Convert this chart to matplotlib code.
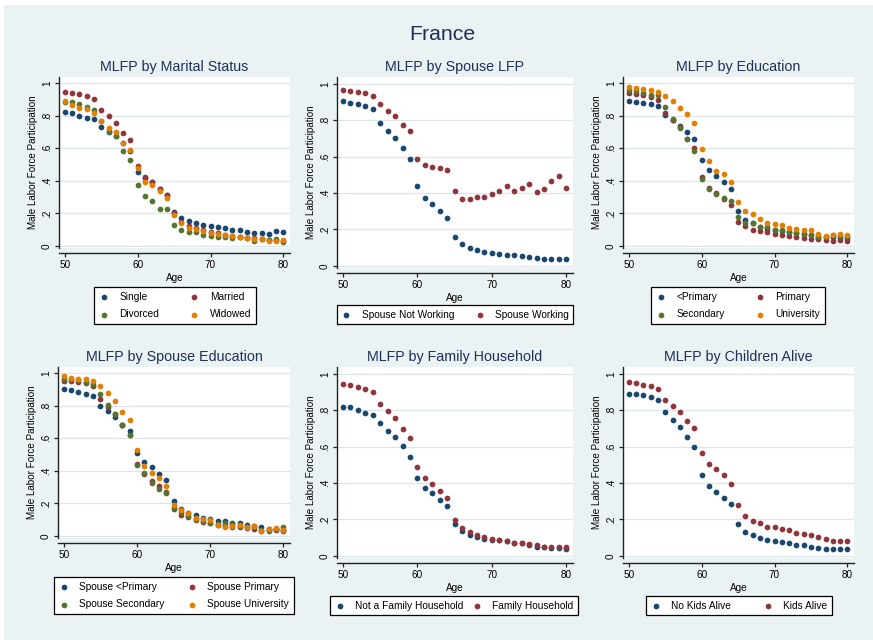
import matplotlib
matplotlib.use("Agg")
import matplotlib.pyplot as plt
from matplotlib.patches import Rectangle

plt.rcParams['font.family'] = ['Liberation Sans', 'DejaVu Sans']

ages = list(range(50, 81))

# MLFP by Marital Status
single = [0.82, 0.815, 0.80, 0.785, 0.78, 0.73, 0.70, 0.675, 0.635, 0.585, 0.457, 0.42, 0.39, 0.35, 0.315,
          0.21, 0.175, 0.155, 0.14, 0.13, 0.123, 0.115, 0.11, 0.10, 0.097, 0.088, 0.08, 0.08, 0.073, 0.09, 0.085]
married = [0.947, 0.94, 0.93, 0.918, 0.904, 0.836, 0.795, 0.756, 0.695, 0.648, 0.488, 0.422, 0.39, 0.352, 0.316,
           0.20, 0.145, 0.125, 0.113, 0.098, 0.086, 0.082, 0.07, 0.064, 0.057, 0.051, 0.047, 0.043, 0.037, 0.037, 0.033]
divorced = [0.885, 0.885, 0.873, 0.852, 0.836, 0.77, 0.707, 0.672, 0.584, 0.525, 0.375, 0.31, 0.277, 0.227, 0.227,
            0.13, 0.096, 0.084, 0.084, 0.07, 0.061, 0.053, 0.053, 0.047, 0.053, 0.047, 0.029, 0.041, 0.035, 0.043, 0.027]
widowed = [0.89, 0.863, 0.846, 0.842, 0.818, 0.766, 0.725, 0.697, 0.635, 0.59, 0.477, 0.39, 0.373, 0.34, 0.293,
           0.189, 0.139, 0.109, 0.105, 0.092, 0.082, 0.072, 0.068, 0.061, 0.055, 0.051, 0.045, 0.041, 0.033, 0.033, 0.035]

# MLFP by Spouse LFP
sp_not_working = [0.903, 0.896, 0.887, 0.876, 0.86, 0.785, 0.743, 0.703, 0.646, 0.589, 0.44, 0.374, 0.339, 0.303, 0.264,
                  0.159, 0.12, 0.099, 0.088, 0.078, 0.071, 0.066, 0.062, 0.057, 0.053, 0.047, 0.042, 0.038, 0.035, 0.035, 0.035]
sp_working = [0.964, 0.962, 0.954, 0.947, 0.934, 0.887, 0.852, 0.821, 0.772, 0.743, 0.589, 0.555, 0.54, 0.535, 0.526,
              0.41, 0.367, 0.365, 0.38, 0.38, 0.392, 0.41, 0.44, 0.41, 0.43, 0.447, 0.405, 0.42, 0.467, 0.493, 0.429]

# MLFP by Education
edu_lt_primary = [0.89, 0.883, 0.875, 0.869, 0.857, 0.801, 0.775, 0.738, 0.699, 0.656, 0.525, 0.467, 0.43, 0.391, 0.352,
                  0.213, 0.16, 0.141, 0.119, 0.107, 0.098, 0.094, 0.086, 0.08, 0.074, 0.068, 0.057, 0.053, 0.053, 0.051, 0.047]
edu_primary = [0.94, 0.932, 0.924, 0.916, 0.893, 0.816, 0.775, 0.73, 0.658, 0.60, 0.426, 0.359, 0.328, 0.291, 0.254,
               0.15, 0.121, 0.098, 0.092, 0.084, 0.072, 0.07, 0.061, 0.055, 0.051, 0.045, 0.041, 0.035, 0.033, 0.037, 0.031]
edu_secondary = [0.957, 0.949, 0.939, 0.926, 0.924, 0.852, 0.779, 0.727, 0.656, 0.582, 0.414, 0.348, 0.318, 0.293, 0.277,
                 0.176, 0.139, 0.139, 0.119, 0.115, 0.098, 0.098, 0.086, 0.082, 0.076, 0.07, 0.057, 0.053, 0.068, 0.064, 0.061]
edu_university = [0.975, 0.971, 0.963, 0.959, 0.947, 0.922, 0.89, 0.848, 0.807, 0.756, 0.596, 0.52, 0.463, 0.443, 0.395,
                  0.268, 0.215, 0.195, 0.168, 0.143, 0.135, 0.129, 0.109, 0.104, 0.096, 0.096, 0.076, 0.064, 0.066, 0.072, 0.07]

# MLFP by Spouse Education
sedu_lt_primary = [0.90, 0.894, 0.884, 0.873, 0.861, 0.798, 0.765, 0.733, 0.684, 0.647, 0.512, 0.455, 0.422, 0.38, 0.345,
                   0.214, 0.165, 0.143, 0.127, 0.112, 0.104, 0.094, 0.09, 0.082, 0.078, 0.067, 0.061, 0.055, 0.045, 0.041, 0.037]
sedu_primary = [0.953, 0.949, 0.945, 0.937, 0.92, 0.843, 0.794, 0.749, 0.682, 0.618, 0.443, 0.378, 0.339, 0.31, 0.273,
                0.167, 0.127, 0.114, 0.10, 0.086, 0.08, 0.069, 0.059, 0.055, 0.053, 0.049, 0.041, 0.033, 0.035, 0.035, 0.031]
sedu_secondary = [0.963, 0.961, 0.955, 0.947, 0.931, 0.873, 0.802, 0.751, 0.682, 0.62, 0.433, 0.384, 0.327, 0.286, 0.265,
                  0.171, 0.145, 0.12, 0.106, 0.092, 0.08, 0.073, 0.078, 0.073, 0.063, 0.057, 0.053, 0.037, 0.031, 0.045, 0.053]
sedu_university = [0.98, 0.971, 0.965, 0.961, 0.953, 0.92, 0.876, 0.829, 0.761, 0.712, 0.529, 0.429, 0.384, 0.355, 0.306,
                   0.188, 0.157, 0.143, 0.112, 0.106, 0.096, 0.067, 0.055, 0.059, 0.065, 0.053, 0.059, 0.033, 0.043, 0.049, 0.037]

# MLFP by Family Household
not_family = [0.819, 0.819, 0.799, 0.786, 0.776, 0.73, 0.688, 0.653, 0.604, 0.544, 0.429, 0.372, 0.345, 0.308, 0.274,
              0.173, 0.139, 0.117, 0.104, 0.095, 0.089, 0.086, 0.08, 0.068, 0.068, 0.058, 0.046, 0.047, 0.042, 0.044, 0.038]
family = [0.943, 0.938, 0.927, 0.916, 0.901, 0.834, 0.794, 0.755, 0.697, 0.649, 0.489, 0.425, 0.392, 0.358, 0.319,
          0.199, 0.151, 0.131, 0.117, 0.102, 0.093, 0.088, 0.08, 0.073, 0.068, 0.064, 0.058, 0.051, 0.051, 0.046, 0.046]

# MLFP by Children Alive
no_kids = [0.891, 0.891, 0.881, 0.87, 0.858, 0.79, 0.748, 0.71, 0.653, 0.599, 0.443, 0.381, 0.352, 0.318, 0.286,
           0.173, 0.131, 0.113, 0.099, 0.089, 0.08, 0.075, 0.069, 0.06, 0.058, 0.051, 0.042, 0.04, 0.04, 0.04, 0.036]
kids = [0.953, 0.949, 0.94, 0.931, 0.918, 0.858, 0.821, 0.788, 0.741, 0.703, 0.562, 0.505, 0.478, 0.442, 0.396,
        0.277, 0.221, 0.193, 0.182, 0.157, 0.157, 0.148, 0.142, 0.126, 0.12, 0.113, 0.102, 0.095, 0.084, 0.08, 0.084]

yticks = [0, 0.2, 0.4, 0.6, 0.8, 1]
ytick_labels = ["0", ".2", ".4", ".6", ".8", "1"]
xticks = [50, 60, 70, 80]

navy = '#1A476F'
maroon = '#90353B'
green = '#55752F'
orange = '#E37E00'
bg = '#EAF2F3'
title_col = '#1F2F57'

W, H = 873, 640
fig = plt.figure(figsize=(W / 100, H / 100), dpi=100, facecolor='white')
fig.patches.append(Rectangle((4 / W, 0), 1, 1 - 5 / H, transform=fig.transFigure,
                             facecolor=bg, edgecolor='none', zorder=-10))

fig.text(442 / W, 1 - 34 / H, "France", fontsize=15.3, color=title_col, ha='center', va='center')

panels = [
    # title, box (x0, x1, ytop, ybot), series, labels, colors, legend (cx, top, colspacing)
    ("MLFP by Marital Status", (59, 290, 77, 248),
     [single, married, divorced, widowed], ["Single", "Married", "Divorced", "Widowed"],
     [navy, maroon, green, orange], (175, 287, 3.0)),
    ("MLFP by Spouse LFP", (337, 573, 77, 268),
     [sp_not_working, sp_working], ["Spouse Not Working", "Spouse Working"],
     [navy, maroon], (455, 305, 2.0)),
    ("MLFP by Education", (623, 854, 77, 248),
     [edu_lt_primary, edu_primary, edu_secondary, edu_university], ["<Primary", "Primary", "Secondary", "University"],
     [navy, maroon, green, orange], (738, 287, 3.0)),
    ("MLFP by Spouse Education", (58, 290, 367, 538),
     [sedu_lt_primary, sedu_primary, sedu_secondary, sedu_university],
     ["Spouse <Primary", "Spouse Primary", "Spouse Secondary", "Spouse University"],
     [navy, maroon, green, orange], (174, 577, 2.2)),
    ("MLFP by Family Household", (337, 573, 367, 558),
     [not_family, family], ["Not a Family Household", "Family Household"],
     [navy, maroon], (454, 596, 0.8)),
    ("MLFP by Children Alive", (623, 854, 367, 558),
     [no_kids, kids], ["No Kids Alive", "Kids Alive"],
     [navy, maroon], (739, 596, 3.2)),
]

for title, box, series, labels, colors, leg in panels:
    x0, x1, yt, yb = box
    ax = fig.add_axes([x0 / W, 1 - yb / H, (x1 - x0) / W, (yb - yt) / H])
    ax.set_facecolor('white')
    handles = []
    for vals, lab, col in zip(series, labels, colors):
        h = ax.scatter(ages, vals, s=17, color=col, label=lab, linewidths=0, zorder=3)
        handles.append(h)
    ax.set_xlim(49.2, 80.9)
    ax.set_ylim(-0.012, 1.037)
    ax.set_xticks(xticks)
    ax.set_yticks(yticks)
    ax.set_yticklabels(ytick_labels, rotation=90, va='center')
    ax.grid(axis='y', color='#DCE5E9', linewidth=0.9)
    ax.set_axisbelow(True)
    for s in ['top', 'right']:
        ax.spines[s].set_visible(False)
    ax.spines['bottom'].set_position(('outward', 3.6))
    for s in ['left', 'bottom']:
        ax.spines[s].set_color('#222222')
        ax.spines[s].set_linewidth(1.0)
    ax.tick_params(axis='both', labelsize=7.2, length=3, width=0.9, color='#222222', pad=2)
    ax.set_xlabel("Age", fontsize=7.2, labelpad=2)
    ax.set_ylabel("Male Labor Force Participation", fontsize=7.1, labelpad=3)
    ax.set_title(title, fontsize=10.3, color=title_col, pad=4)
    # legend fills row by row like the original
    if len(handles) == 4:
        order = [0, 2, 1, 3]
    else:
        order = [0, 1]
    cx, top, cs = leg
    lg = ax.legend([handles[i] for i in order], [labels[i] for i in order],
                   loc='upper center', bbox_to_anchor=(cx / W, 1 - top / H), bbox_transform=fig.transFigure,
                   ncol=2, fontsize=7.3, frameon=True, fancybox=False, edgecolor='black',
                   framealpha=1, handlelength=1.0, handletextpad=1.0, columnspacing=cs,
                   labelspacing=0.75, borderpad=0.45, borderaxespad=0)
    lg.get_frame().set_linewidth(0.9)

fig.savefig("out.png", dpi=100, facecolor=fig.get_facecolor())
